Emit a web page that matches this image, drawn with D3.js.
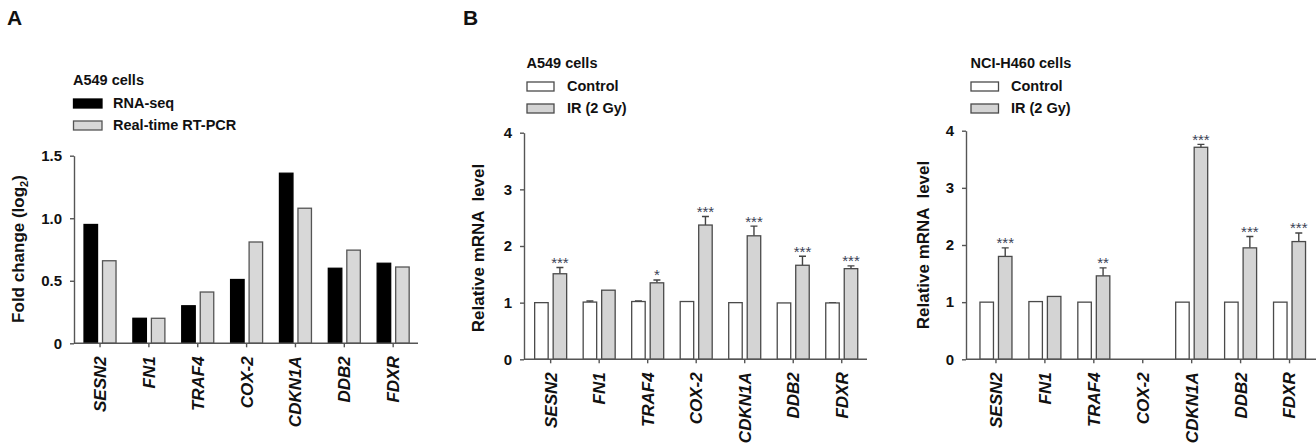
<!DOCTYPE html>
<meta charset="utf-8">
<script src="https://d3js.org/d3.v7.min.js"></script>
<style>
  body { margin: 0; background: #fff; }
  text { font-family: "Liberation Sans", Arial, sans-serif; font-weight: bold; fill: #111; }
</style>
<div id="chart"></div>
<script>
// genes shown on every x axis
var genes = ["SESN2", "FN1", "TRAF4", "COX-2", "CDKN1A", "DDB2", "FDXR"];

// panel A : fold change (log2) in A549 cells
var rnaSeq = [0.95, 0.20, 0.30, 0.51, 1.36, 0.60, 0.64];
var rtPcr = [0.66, 0.20, 0.41, 0.81, 1.08, 0.745, 0.61];
var foldTicks = [0, 0.5, 1.0, 1.5];
var foldTickLabels = ["0", "0.5", "1.0", "1.5"];

// panel B : relative mRNA level, A549 cells
var a549Control = [1.0, 1.01, 1.02, 1.02, 1.0, 0.995, 0.995];
var a549ControlErr = [0, 0.02, 0.01, 0, 0, 0, 0.005];
var a549IR = [1.51, 1.22, 1.35, 2.37, 2.18, 1.66, 1.60];
var a549IRErr = [0.11, 0, 0.05, 0.15, 0.17, 0.16, 0.05];
var a549Stars = ["***", "", "*", "***", "***", "***", "***"];

// panel B : relative mRNA level, NCI-H460 cells (no COX-2 data)
var h460Control = [1.0, 1.01, 1.0, null, 1.0, 1.0, 1.0];
var h460ControlErr = [0, 0, 0, null, 0, 0, 0];
var h460IR = [1.80, 1.10, 1.46, null, 3.71, 1.95, 2.06];
var h460IRErr = [0.15, 0, 0.14, null, 0.05, 0.20, 0.15];
var h460Stars = ["***", "", "**", "", "***", "***", "***"];
var mrnaTicks = [0, 1, 2, 3, 4];

var width = 1316, height = 448;
var svg = d3.select("#chart").append("svg")
  .attr("width", width)
  .attr("height", height);

var axisColor = "#555";
var barStroke = "#4a4a4a";

function drawPanel(p) {
  var g = svg.append("g");

  var x = d3.scaleBand().domain(genes).range(p.band);
  var y = d3.scaleLinear().domain(p.yDomain).range([p.y0, p.yTop]);

  // bars, two per gene
  p.series.forEach(function(s, si) {
    var off = si == 0 ? -16 : 2.5;
    var rows = genes.map(function(d, i) { return { gene: d, v: s.values[i], e: s.err ? s.err[i] : 0, star: s.stars ? s.stars[i] : "" }; })
      .filter(function(d) { return d.v != null; });
    var cx = function(d) { return x(d.gene) + x.bandwidth() / 2; };

    // error bars (upper only)
    g.selectAll(".err" + si).data(rows.filter(function(d) { return d.e > 0; })).enter()
      .append("path")
      .attr("d", function(d) {
        var xm = cx(d) + off + 6.75;
        return "M" + xm + "," + y(d.v) + "V" + y(d.v + d.e) + "M" + (xm - 3.5) + "," + y(d.v + d.e) + "H" + (xm + 3.5);
      })
      .attr("stroke", "#444")
      .attr("stroke-width", 1.4)
      .attr("fill", "none");

    g.selectAll(".bar" + si).data(rows).enter()
      .append("rect")
      .attr("x", function(d) { return cx(d) + off; })
      .attr("y", function(d) { return y(d.v); })
      .attr("width", 13.5)
      .attr("height", function(d) { return y(0) - y(d.v); })
      .attr("fill", s.fill)
      .attr("stroke", s.stroke)
      .attr("stroke-width", 1.3);

    // significance stars
    g.selectAll(".star" + si).data(rows.filter(function(d) { return d.star; })).enter()
      .append("text")
      .attr("x", function(d) { return cx(d) + off + 6.75; })
      .attr("y", function(d) { return y(d.v + d.e) - 8 + 8.5; })
      .attr("text-anchor", "middle")
      .style("font-size", "15px")
      .style("font-weight", "normal")
      .style("fill", "#3b3f55")
      .text(function(d) { return d.star; });
  });

  // y axis
  var yAxis = d3.axisLeft(y).tickValues(p.ticks).tickSize(4).tickSizeOuter(0).tickPadding(8)
    .tickFormat(function(d, i) { return p.tickLabels[i]; });
  var ya = g.append("g").attr("transform", "translate(" + p.axisX + ",0)").call(yAxis);
  ya.selectAll("line, path").attr("stroke", axisColor).attr("stroke-width", 1.4);
  ya.selectAll("text").style("font-size", "15px").style("font-family", "Liberation Sans, Arial, sans-serif").attr("fill", "#111");

  // x axis
  var xAxis = d3.axisBottom(x).tickSize(4).tickSizeOuter(0).tickFormat("");
  var xa = g.append("g").attr("transform", "translate(0," + p.y0 + ")").call(xAxis);
  xa.select(".domain").remove();
  xa.selectAll("line").attr("stroke", axisColor).attr("stroke-width", 1.4);
  g.append("line")
    .attr("x1", p.axisX).attr("x2", p.axisEnd)
    .attr("y1", p.y0).attr("y2", p.y0)
    .attr("stroke", axisColor).attr("stroke-width", 1.4);

  // gene labels, rotated and italic
  g.selectAll(".gene").data(genes).enter()
    .append("text")
    .attr("transform", function(d) { return "translate(" + (x(d) + x.bandwidth() / 2) + "," + (p.y0 + 13) + ") rotate(-90)"; })
    .attr("dy", "0.35em")
    .attr("text-anchor", "end")
    .style("font-size", "17px")
    .style("font-style", "italic")
    .text(function(d) { return d; });

  // y axis title
  var yl = g.append("text")
    .attr("transform", "translate(" + p.titleX + "," + p.titleY + ") rotate(-90)")
    .attr("dy", "0.35em")
    .attr("text-anchor", "middle")
    .style("font-size", "17px")
    .style("white-space", "pre");
  p.yTitle(yl);

  // legend
  var lg = g.append("g").attr("transform", "translate(" + p.legendX + "," + p.legendY + ")");
  lg.append("text").attr("x", 0).attr("y", 0).style("font-size", "14.5px").text(p.cells);
  p.series.forEach(function(s, si) {
    lg.append("rect")
      .attr("x", 0.5).attr("y", p.legendGap + si * 22 - 9)
      .attr("width", p.swatchW).attr("height", 9)
      .attr("fill", s.fill)
      .attr("stroke", s.legendStroke || s.stroke)
      .attr("stroke-width", 1.3);
    lg.append("text")
      .attr("x", p.textX).attr("y", p.legendGap + si * 22)
      .style("font-size", "14.5px")
      .text(s.name);
  });

  svg.append("text")
    .attr("x", p.letterX).attr("y", 25)
    .style("font-size", "21px")
    .text(p.letter);
}

drawPanel({
  letter: "A", letterX: 7,
  band: [75.6, 417.6], axisX: 74, axisEnd: 418,
  y0: 343.3, yTop: 155.7, yDomain: [0, 1.5],
  ticks: foldTicks, tickLabels: foldTickLabels,
  titleX: 18, titleY: 249,
  yTitle: function(t) {
    t.append("tspan").text("Fold change (log");
    t.append("tspan").attr("dy", 4).style("font-size", "11px").text("2");
    t.append("tspan").attr("dy", -4).text(")");
  },
  cells: "A549 cells", legendX: 73, legendY: 85, legendGap: 23, swatchW: 28.5, textX: 40,
  series: [
    { name: "RNA-seq", values: rnaSeq, fill: "#000", stroke: "#000" },
    { name: "Real-time RT-PCR", values: rtPcr, fill: "#d8d8d8", stroke: "#555" }
  ]
});

drawPanel({
  letter: "B", letterX: 463,
  band: [526.4, 866], axisX: 524, axisEnd: 867,
  y0: 359.3, yTop: 132.7, yDomain: [0, 4],
  ticks: mrnaTicks, tickLabels: ["0", "1", "2", "3", "4"],
  titleX: 478, titleY: 248,
  yTitle: function(t) { t.text("Relative mRNA  level"); },
  cells: "A549 cells", legendX: 526.5, legendY: 68, legendGap: 23, swatchW: 27, textX: 40.5,
  series: [
    { name: "Control", values: a549Control, err: a549ControlErr, fill: "#fff", stroke: barStroke },
    { name: "IR (2 Gy)", values: a549IR, err: a549IRErr, stars: a549Stars, fill: "#d4d4d4", stroke: barStroke }
  ]
});

drawPanel({
  letter: "", letterX: 0,
  band: [971.5, 1314], axisX: 966, axisEnd: 1316,
  y0: 359.3, yTop: 130.7, yDomain: [0, 4],
  ticks: mrnaTicks, tickLabels: ["0", "1", "2", "3", "4"],
  titleX: 923, titleY: 245,
  yTitle: function(t) { t.text("Relative mRNA  level"); },
  cells: "NCI-H460 cells", legendX: 970.5, legendY: 68, legendGap: 23, swatchW: 27.5, textX: 40.5,
  series: [
    { name: "Control", values: h460Control, err: h460ControlErr, fill: "#fff", stroke: barStroke },
    { name: "IR (2 Gy)", values: h460IR, err: h460IRErr, stars: h460Stars, fill: "#d4d4d4", stroke: barStroke }
  ]
});
</script>
